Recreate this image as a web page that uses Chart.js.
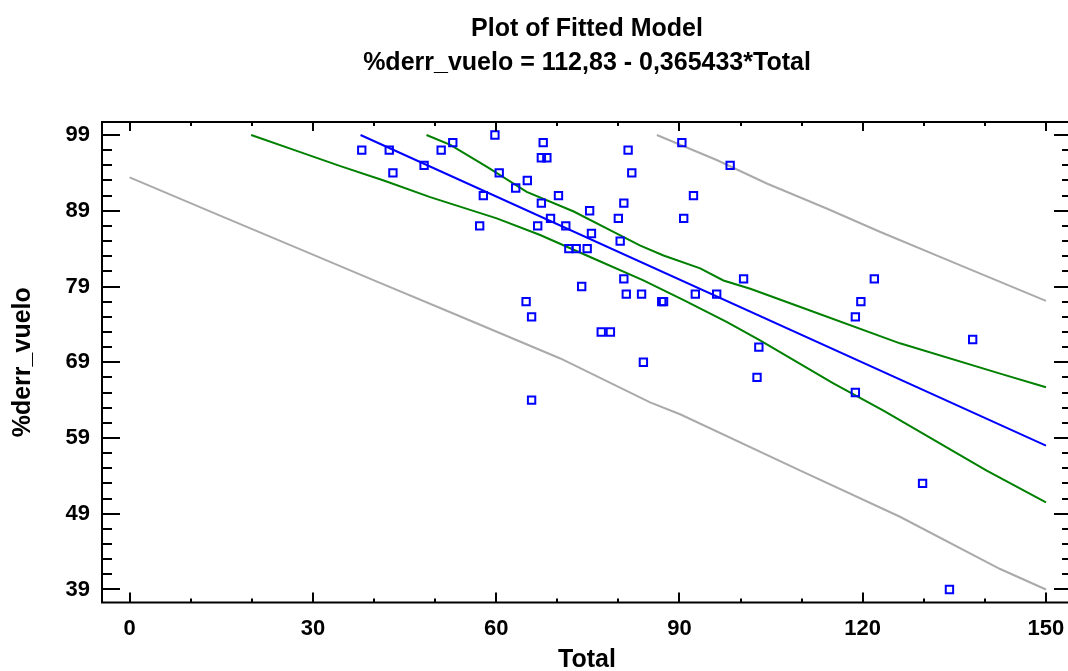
<!DOCTYPE html>
<html>
<head>
<meta charset="utf-8">
<script src="https://cdn.jsdelivr.net/npm/chart.js@4/dist/chart.umd.min.js"></script>
<style>
  html, body { margin: 0; padding: 0; background: #fff; overflow: hidden; }
  #wrap { width: 1082px; height: 671px; }
</style>
</head>
<body>
<div id="wrap"><canvas id="fitChart" width="1082" height="671"></canvas></div>
<script>
/* ── Plot of Fitted Model: %derr_vuelo vs Total ── */

// observed points
const pointX = [38.0, 42.5, 43.1, 48.2, 52.9, 51.0, 59.8, 60.5, 57.9, 57.3,
                63.2, 65.1, 67.7, 67.4, 68.3, 67.4, 70.2, 68.9, 66.8, 71.4,
                75.3, 75.6, 71.9, 73.1, 74.9, 81.6, 82.2, 80.9, 80.0, 80.3,
                90.4, 98.3, 92.3, 90.7, 64.9, 65.8, 74.0, 80.9, 81.3, 83.8,
                87.1, 87.4, 92.6, 96.1, 100.5, 77.2, 78.7, 84.1, 65.8, 121.9,
                119.7, 118.8, 138.0, 103.0, 102.7, 118.8, 129.8, 134.2];
const pointY = [97, 97, 94, 95, 98, 97, 99, 94, 91, 87,
                92, 93, 98, 96, 96, 90, 91, 88, 87, 87,
                89, 86, 84, 84, 84, 97, 94, 90, 88, 85,
                98, 95, 91, 88, 77, 75, 79, 80, 78, 78,
                77, 77, 78, 78, 80, 73, 73, 69, 64, 80,
                77, 75, 72, 71, 67, 65, 53, 39];

// fitted line
const fitX = [37.8, 150];
const fitY = [99.0, 58.0];

// confidence limits (green)
const ciUpX = [48.6, 52.5, 58.5, 65.0, 72.7, 79.2, 83.6, 87.4, 93.4, 97.2, 101.6, 109.8, 126.1, 142.5, 150];
const ciUpY = [99.0, 97.7, 94.8, 91.5, 88.9, 86.2, 84.4, 83.1, 81.4, 79.8, 78.7, 76.3, 71.5, 67.5, 65.7];
const ciLoX = [19.9, 27.0, 34.5, 41.6, 49.2, 60.1, 67.2, 76.5, 84.1, 90.7, 97.8, 103.2, 115.2, 123.4, 140.3, 150];
const ciLoY = [99.0, 97.0, 94.9, 93.0, 90.8, 88.0, 85.8, 82.5, 79.8, 77.2, 74.3, 71.9, 66.2, 62.6, 54.7, 50.5];

// prediction limits (gray)
const piUpX = [86.3, 96.1, 104.3, 114.1, 122.9, 136.0, 150];
const piUpY = [99.0, 95.7, 92.6, 89.3, 86.2, 81.8, 77.1];
const piLoX = [0, 15, 30, 40, 52.5, 70.5, 85.2, 90.2, 109.8, 126.1, 142.5, 150];
const piLoY = [93.4, 88.3, 83.2, 79.8, 75.6, 69.5, 63.7, 62.1, 54.7, 48.6, 41.7, 39.0];

// axis ticks
const xMajor = [0, 30, 60, 90, 120, 150];
const xMinor = [10, 20, 40, 50, 70, 80, 100, 110, 130, 140];
const yMajor = [39, 49, 59, 69, 79, 89, 99];
const yMinor = [41, 43, 45, 47, 51, 53, 55, 57, 61, 63, 65, 67,
                71, 73, 75, 77, 81, 83, 85, 87, 91, 93, 95, 97];

const FONT = '"Liberation Sans", Arial, Helvetica, sans-serif';
const zip = (xs, ys) => xs.map((x, i) => ({ x, y: ys[i] }));

function lineSet(xs, ys, color, order) {
  return {
    data: zip(xs, ys),
    showLine: true,
    borderColor: color,
    borderWidth: 2,
    pointRadius: 0,
    fill: false,
    tension: 0,
    order,
  };
}

/* ── 테두리 + 안쪽 눈금 ── */
const frameTicks = {
  id: 'frameTicks',
  afterDraw(chart) {
    const { ctx, chartArea: a, scales: { x, y } } = chart;
    ctx.save();
    ctx.strokeStyle = '#000';
    ctx.lineWidth = 2;
    ctx.strokeRect(a.left, a.top, a.right - a.left, a.bottom - a.top);
    ctx.beginPath();
    const xt = (vals, lenB, lenT) => vals.forEach(v => {
      const px = Math.round(x.getPixelForValue(v));
      ctx.moveTo(px, a.bottom); ctx.lineTo(px, a.bottom - lenB);
      ctx.moveTo(px, a.top);    ctx.lineTo(px, a.top + lenT);
    });
    const yt = (vals, len) => vals.forEach(v => {
      const py = Math.round(y.getPixelForValue(v));
      ctx.moveTo(a.left, py);  ctx.lineTo(a.left + len, py);
      ctx.moveTo(a.right, py); ctx.lineTo(a.right - len, py);
    });
    xt(xMajor, 10, 9);
    xt(xMinor, 4, 4);
    yt(yMajor, 18);
    yt(yMinor, 10);
    ctx.stroke();
    ctx.restore();
  },
};

new Chart(document.getElementById('fitChart'), {
  type: 'scatter',
  data: {
    datasets: [
      {
        data: zip(pointX, pointY),
        pointStyle: 'rect',
        pointRadius: 5.2,
        pointBorderWidth: 2,
        borderColor: '#0000ff',
        backgroundColor: 'rgba(0,0,0,0)',
        order: 0,
      },
      lineSet(fitX, fitY, '#0000ff', 1),
      lineSet(ciUpX, ciUpY, '#008000', 2),
      lineSet(ciLoX, ciLoY, '#008000', 2),
      lineSet(piUpX, piUpY, '#aaaaaa', 3),
      lineSet(piLoX, piLoY, '#aaaaaa', 3),
    ],
  },
  options: {
    responsive: false,
    animation: false,
    layout: { padding: { left: 0, right: 10, top: 0, bottom: 0 } },
    plugins: {
      legend: { display: false },
      tooltip: { enabled: false },
      title: {
        display: true,
        fullSize: false,
        text: ['Plot of Fitted Model', '%derr_vuelo = 112,83 - 0,365433*Total'],
        color: '#000',
        font: { family: FONT, size: 25, weight: 'bold', lineHeight: 1.36 },
        padding: { top: 12, bottom: 42 },
      },
    },
    scales: {
      x: {
        type: 'linear',
        min: -4.52,
        max: 154.26,
        afterBuildTicks: s => { s.ticks = xMajor.map(v => ({ value: v })); },
        afterFit: s => { s.height = 68.5; },
        grid: { display: false, drawTicks: false },
        border: { display: false },
        ticks: { color: '#000', padding: 13, font: { family: FONT, size: 22, weight: 'bold' } },
        title: {
          display: true,
          text: 'Total',
          color: '#000',
          font: { family: FONT, size: 25, weight: 'bold' },
          padding: { top: 0, bottom: -4 },
        },
      },
      y: {
        type: 'linear',
        min: 37.28,
        max: 100.72,
        afterBuildTicks: s => { s.ticks = yMajor.map(v => ({ value: v })); },
        afterFit: s => { s.width = 102; },
        grid: { display: false, drawTicks: false },
        border: { display: false },
        ticks: { color: '#000', padding: 12, font: { family: FONT, size: 22, weight: 'bold' } },
        title: {
          display: true,
          text: '%derr_vuelo',
          color: '#000',
          font: { family: FONT, size: 25, weight: 'bold' },
          padding: { top: 8, bottom: 0 },
        },
      },
    },
  },
  plugins: [frameTicks],
});
</script>
</body>
</html>
